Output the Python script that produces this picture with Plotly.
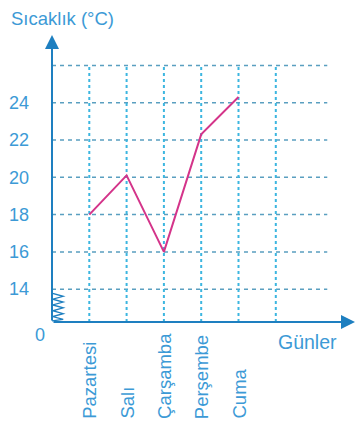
import plotly.graph_objects as go

days = ["Pazartesi", "Salı", "Çarşamba", "Perşembe", "Cuma"]
temps = [18, 20.1, 16, 22.3, 24.3]
y_ticks = [14, 16, 18, 20, 22, 24]
grid_y = [14, 16, 18, 20, 22, 24, 26]
grid_x = [1, 2, 3, 4, 5, 6]

W, H = 357, 427
L, R, T, B = 52, 2, 35, 105
pw, ph = W - L - R, H - T - B
X0, X1 = 0, pw / 37.3
Y0, Y1 = 12.24, 12.24 + ph / 18.65
AXIS = "#1e7fc0"
TXT = "#3c9ad6"
FONT = "Liberation Sans, Arial, sans-serif"

xs = list(range(1, len(days) + 1))

fig = go.Figure()
fig.add_trace(go.Scatter(x=xs, y=temps, mode="lines",
                         line=dict(color="#d4348a", width=2), hoverinfo="skip"))

shapes = []
for gy in grid_y:
    shapes.append(dict(type="line", xref="x", yref="y", x0=0, x1=7.38, y0=gy, y1=gy,
                       line=dict(color="#5a9fc0", width=1.5, dash="4px,4px"), layer="below"))
for gx in grid_x:
    shapes.append(dict(type="line", xref="x", yref="y", x0=gx, x1=gx, y0=Y0, y1=26,
                       line=dict(color="#3cb6e0", width=2, dash="3px,3px"), layer="below"))
# axis break zigzag
zz = "M 0 12.3"
n = 10
for i in range(n):
    y = 12.3 + (i + 0.5) * (13.85 - 12.3) / n
    x = 0.3 if i % 2 == 0 else 0.02
    zz += f" L {x} {y:.3f}"
zz += " L 0 13.85"
shapes.append(dict(type="path", xref="x", yref="y", path=zz,
                   line=dict(color=AXIS, width=1.3)))

def px(xp, yp):
    return (xp - L) / pw, 1 - (yp - T) / ph

annotations = [
    dict(x=X1, y=Y0, ax=X0, ay=Y0, xref="x", yref="y", axref="x", ayref="y",
         text="", showarrow=True, arrowhead=2, arrowsize=1.4, arrowwidth=2, arrowcolor=AXIS),
    dict(x=X0, y=Y1, ax=X0, ay=Y0, xref="x", yref="y", axref="x", ayref="y",
         text="", showarrow=True, arrowhead=2, arrowsize=1.4, arrowwidth=2, arrowcolor=AXIS),
]
for text, (xp, yp), size, xa in [("Sıcaklık (°C)", (9, 18), 18.5, "left"),
                                  ("0", (40, 335), 18, "center"),
                                  ("Günler", (307, 342), 19.5, "center")]:
    ax_, ay_ = px(xp, yp)
    annotations.append(dict(x=ax_, y=ay_, xref="paper", yref="paper", xanchor=xa,
                            yanchor="middle", text=text, showarrow=False,
                            font=dict(family=FONT, size=size, color=TXT)))
# rotated day labels, bottom-aligned
_, yb = px(0, 421)
for i, d in zip(xs, days):
    annotations.append(dict(x=i, y=yb, xref="x", yref="paper", xanchor="center",
                            yanchor="bottom", text=d, textangle=-90, showarrow=False,
                            font=dict(family=FONT, size=18.5, color=TXT)))

fig.update_layout(
    width=W, height=H, margin=dict(l=L, r=R, t=T, b=B),
    paper_bgcolor="white", plot_bgcolor="white", showlegend=False,
    shapes=shapes, annotations=annotations,
    xaxis=dict(range=[X0, X1], showticklabels=False,
               showgrid=False, zeroline=False, showline=False, ticks=""),
    yaxis=dict(range=[Y0, Y1], tickvals=y_ticks, ticktext=[str(v) for v in y_ticks],
               showgrid=False, zeroline=False, showline=False, ticks="",
               ticklabelstandoff=22,
               tickfont=dict(family=FONT, size=18, color=TXT)),
)

fig.write_html("out.html", config={"displayModeBar": False},
               post_script="document.body.style.margin='0';")
